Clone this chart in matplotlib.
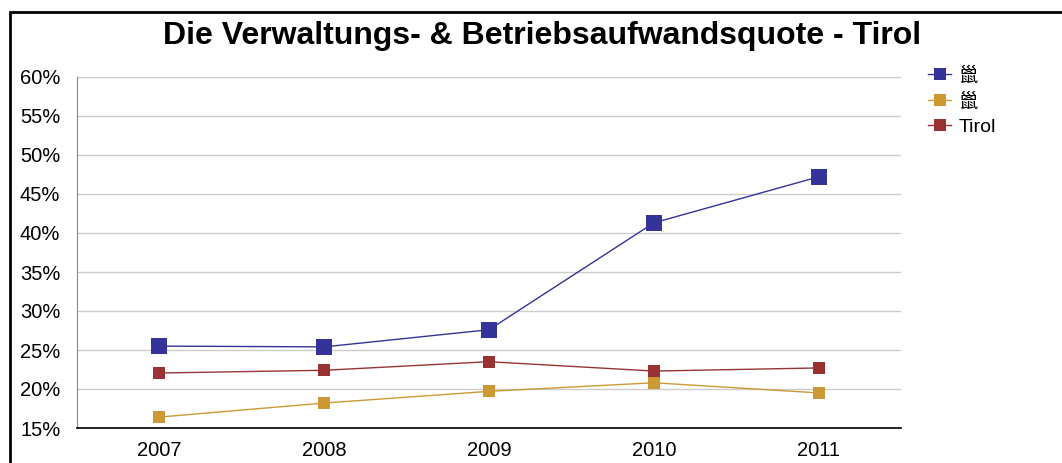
import matplotlib

matplotlib.use("Agg")
import matplotlib.pyplot as plt
from matplotlib.lines import Line2D
from matplotlib.patches import Rectangle

plt.rcParams["font.family"] = ["Liberation Sans", "Noto Sans CJK SC", "DejaVu Sans"]

years = ["2007", "2008", "2009", "2010", "2011"]
series_a = [25.5, 25.4, 27.6, 41.3, 47.2]
series_b = [16.4, 18.2, 19.7, 20.8, 19.5]
tirol = [22.05, 22.4, 23.5, 22.3, 22.7]
labels = ["巤", "巤", "Tirol"]
colors = ["#333399", "#CC9933", "#993333"]
marker_sizes = [12, 8, 8]
y_ticks = [15, 20, 25, 30, 35, 40, 45, 50, 55, 60]

W, H = 1062, 463
fig = plt.figure(figsize=(W / 100, H / 100), dpi=100)
ax = fig.add_axes([77 / W, 1 - 428 / H, (901 - 77) / W, (428 - 77) / H])

x = list(range(len(years)))
for vals, lab, col, ms in zip([series_a, series_b, tirol], labels, colors, marker_sizes):
    ax.plot(x, vals, color=col, linewidth=1.0, marker="s", markersize=ms,
            markeredgewidth=0, label=lab, zorder=3)

ax.set_xlim(-0.5, len(years) - 0.5)
ax.set_ylim(15, 60)
ax.set_xticks(x)
ax.set_xticklabels(years, fontsize=14.5)
ax.set_yticks(y_ticks)
ax.set_yticklabels([f"{v}%" for v in y_ticks], fontsize=14.5)
ax.tick_params(axis="y", length=0, pad=12)
ax.tick_params(axis="x", length=0, pad=9)
ax.yaxis.grid(True, color="#cccccc", linewidth=1.0)
ax.set_axisbelow(True)
for s in ["top", "right"]:
    ax.spines[s].set_visible(False)
ax.spines["left"].set_color("#888888")
ax.spines["bottom"].set_color("black")
ax.spines["bottom"].set_linewidth(1.2)

fig.text(542 / W, 1 - 36 / H, "Die Verwaltungs- & Betriebsaufwandsquote - Tirol",
         ha="center", va="center", fontsize=23, fontweight="bold")

handles = [Line2D([], [], color=c, linewidth=1.0, marker="s", markersize=9,
                  markeredgewidth=0) for c in colors]
fig.legend(handles, labels, loc="upper left", bbox_to_anchor=(928 / W, 1 - 67 / H),
           frameon=False, fontsize=14, handlelength=1.2, handletextpad=0.4,
           labelspacing=0.38, borderaxespad=0, borderpad=0)

fig.patches.append(Rectangle((10 / W, -0.1), 1.0, 1.1 - 12 / H, transform=fig.transFigure,
                             fill=False, edgecolor="black", linewidth=2))

fig.savefig("out.png", dpi=100)
